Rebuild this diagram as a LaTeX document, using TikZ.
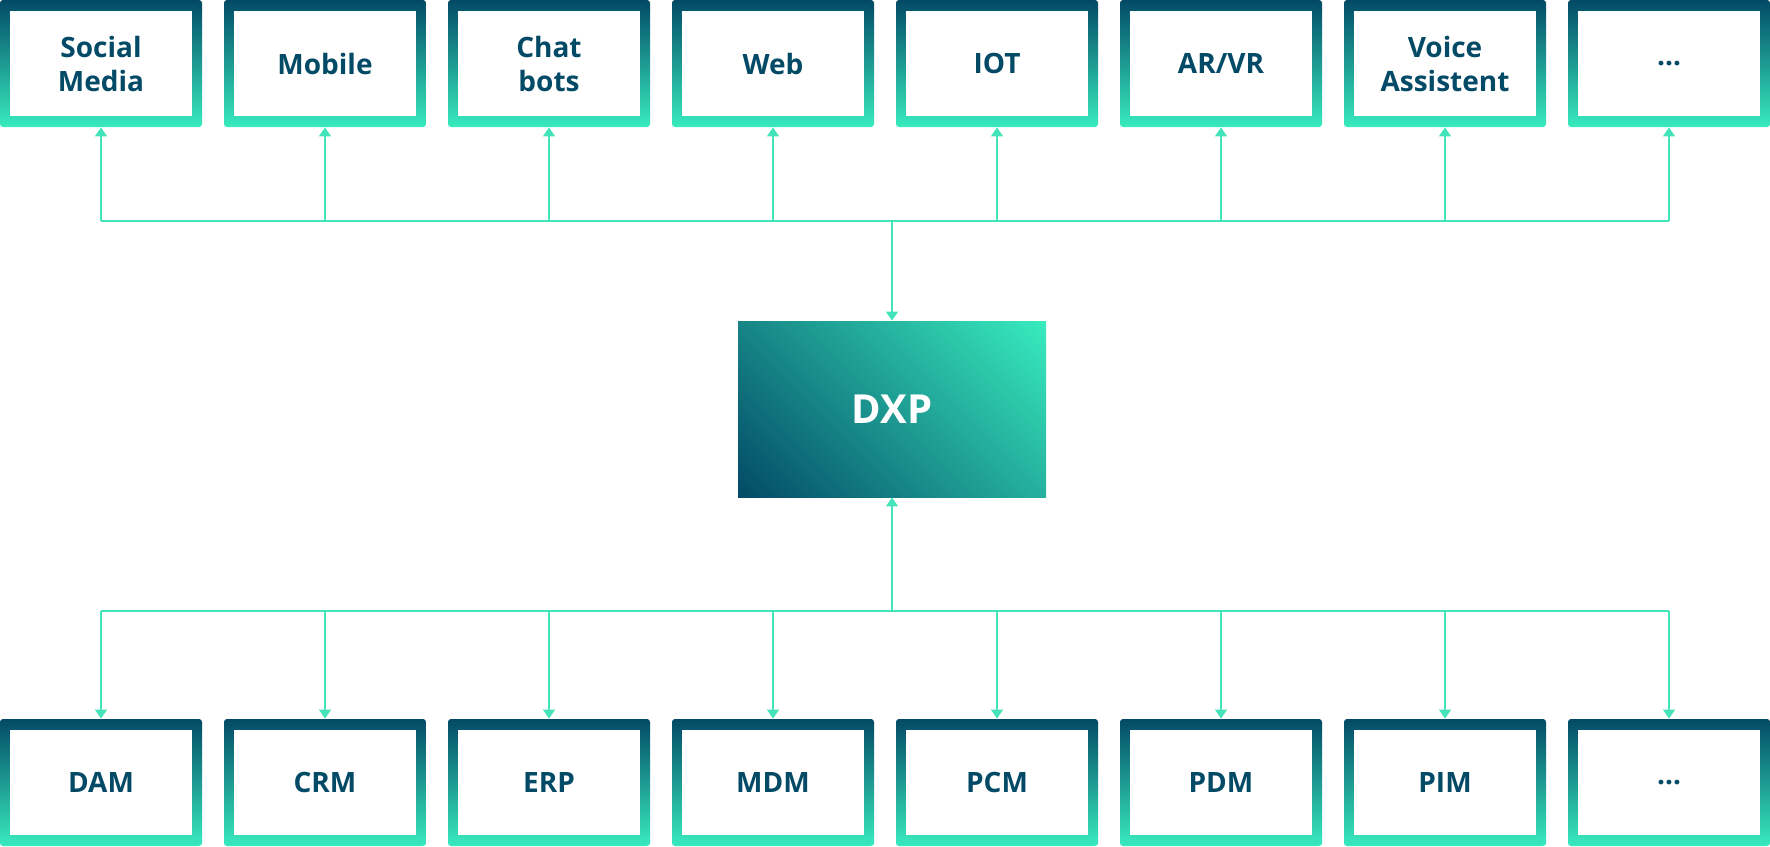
\documentclass[tikz,border=0pt]{standalone}
\usepackage{fontspec}
\setmainfont{Open Sans}
\usetikzlibrary{arrows.meta}
\definecolor{dxpdark}{HTML}{034A66}
\definecolor{dxpgreen}{HTML}{38EBBE}
\definecolor{linkgreen}{HTML}{45E3BA}
\pgfdeclareverticalshading{dxpshade}{100bp}{color(0bp)=(dxpdark); color(14.6bp)=(dxpdark);
  color(85.4bp)=(dxpgreen); color(100bp)=(dxpgreen)}
\tikzset{
  tilebox/.style={rounded corners=1.5pt, inner sep=0pt, minimum width=101pt, minimum height=63.5pt,
    top color=dxpdark, bottom color=dxpgreen, align=center, text=dxpdark,
    font=\fontsize{14}{17}\selectfont\bfseries,
    path picture={\fill[white, sharp corners] ([shift={(5pt,-5.5pt)}]path picture bounding box.north west)
      rectangle ([shift={(-5pt,5.5pt)}]path picture bounding box.south east);}},
  link/.style={draw=linkgreen, line width=0.8pt},
  linkarrow/.style={link, -{Triangle[width=6pt,length=4.5pt]}}
}
\begin{document}
\begin{tikzpicture}[x=0.5pt, y=-0.5pt]
        \useasboundingbox (0,0) rectangle (1770,846);
        % channels on top, sources below
        \foreach \lbl [count=\i, evaluate=\i as \cx using 101+224*(\i-1)] in {{Social\\Media}, Mobile, {Chat\\bots}, Web, IOT, AR/VR, {Voice\\Assistent}, …}
            \node[tilebox] (ch\i) at (\cx,63.5) {\lbl};
        \foreach \lbl [count=\i, evaluate=\i as \cx using 101+224*(\i-1)] in {DAM, CRM, ERP, MDM, PCM, PDM, PIM, …}
            \node[tilebox] (sr\i) at (\cx,782.5) {\lbl};
        \node[minimum width=154pt, minimum height=88pt, inner sep=0pt,
              shading=dxpshade, shading angle=-45,
              text=white, font=\fontsize{20}{24}\selectfont\bfseries] (dxp) at (892,409) {DXP};
        \coordinate (topbus) at (892,221);
        \coordinate (botbus) at (892,611);
        \draw[link] (ch1.south |- topbus) -- (ch8.south |- topbus);
        \draw[link] (sr1.north |- botbus) -- (sr8.north |- botbus);
        \foreach \i in {1,...,8}{%
            \draw[linkarrow] (ch\i.south |- topbus) -- (ch\i.south);
            \draw[linkarrow] (sr\i.north |- botbus) -- (sr\i.north);
        }
        \draw[linkarrow] (topbus) -- (dxp.north);
        \draw[linkarrow] (botbus) -- (dxp.south);
\end{tikzpicture}
\end{document}
